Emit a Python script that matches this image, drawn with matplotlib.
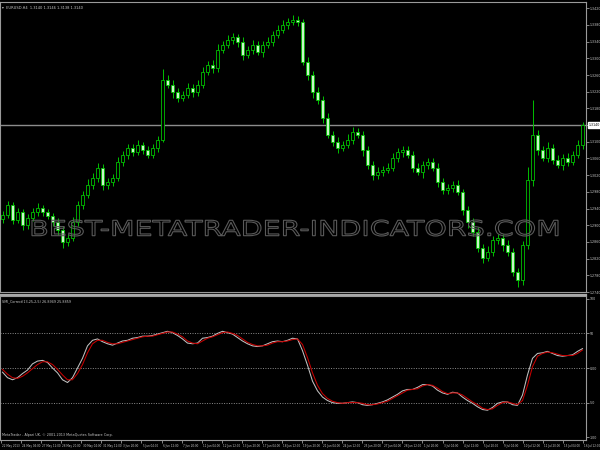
import numpy as np
import matplotlib
matplotlib.use('Agg')
import matplotlib.pyplot as plt
from matplotlib.textpath import TextPath
from matplotlib.patches import PathPatch
from matplotlib.font_manager import FontProperties
import matplotlib.transforms as mtransforms
from matplotlib.lines import Line2D

# EURUSD H4 close prices (one candle per 5 px of the screenshot)
close = [1.2925, 1.2949, 1.2913, 1.2932, 1.2901, 1.2918, 1.2932, 1.2942, 1.2932, 1.2922,
         1.2908, 1.2889, 1.2860, 1.2870, 1.2908, 1.2949, 1.2973, 1.2997, 1.3014, 1.3038,
         1.2997, 1.3004, 1.3014, 1.3052, 1.3069, 1.3086, 1.3076, 1.3093, 1.3081, 1.3069,
         1.3086, 1.3105, 1.3249, 1.3237, 1.3220, 1.3206, 1.3213, 1.3230, 1.3220, 1.3237,
         1.3268, 1.3285, 1.3278, 1.3321, 1.3333, 1.3345, 1.3350, 1.3340, 1.3309, 1.3321,
         1.3333, 1.3316, 1.3333, 1.3340, 1.3357, 1.3369, 1.3381, 1.3388, 1.3393, 1.3388,
         1.3292, 1.3261, 1.3220, 1.3201, 1.3158, 1.3117, 1.3100, 1.3086, 1.3093, 1.3105,
         1.3124, 1.3117, 1.3081, 1.3045, 1.3021, 1.3028, 1.3033, 1.3038, 1.3062, 1.3076,
         1.3081, 1.3069, 1.3038, 1.3028, 1.3045, 1.3052, 1.3038, 1.3004, 1.2985, 1.2990,
         1.2997, 1.2980, 1.2937, 1.2908, 1.2884, 1.2846, 1.2822, 1.2836, 1.2865, 1.2870,
         1.2853, 1.2836, 1.2788, 1.2769, 1.2853, 1.3009, 1.3117, 1.3081, 1.3062, 1.3086,
         1.3057, 1.3045, 1.3062, 1.3052, 1.3069, 1.3093, 1.3140]
first_open = 1.2915
# wick lengths in pips above / below the candle body
hi_wick = [8, 10, 6, 9, 7, 8, 10, 12, 6, 8,
           7, 9, 10, 8, 12, 10, 9, 14, 10, 12,
           8, 10, 9, 12, 10, 8, 9, 11, 7, 10,
           8, 9, 25, 12, 10, 8, 9, 11, 8, 10,
           12, 9, 10, 14, 9, 11, 10, 8, 12, 9,
           10, 8, 9, 11, 8, 10, 12, 9, 12, 8,
           6, 10, 9, 12, 8, 10, 9, 11, 8, 14,
           12, 9, 8, 10, 9, 11, 8, 10, 12, 9,
           8, 10, 9, 12, 10, 8, 9, 11, 10, 8,
           9, 12, 8, 10, 9, 11, 8, 14, 10, 9,
           8, 12, 10, 9, 10, 30, 84, 12, 10, 14,
           9, 11, 8, 10, 9, 12, 8]
lo_wick = [9, 8, 10, 7, 12, 9, 8, 10, 9, 7,
           10, 12, 15, 10, 8, 9, 10, 8, 9, 10,
           12, 10, 9, 8, 10, 11, 9, 8, 10, 9,
           8, 10, 6, 9, 14, 10, 9, 8, 12, 10,
           9, 8, 12, 10, 9, 8, 10, 12, 14, 9,
           10, 9, 12, 8, 10, 9, 8, 10, 9, 10,
           8, 12, 14, 10, 12, 9, 10, 12, 9, 8,
           10, 9, 14, 10, 12, 9, 10, 8, 9, 10,
           12, 9, 10, 8, 14, 10, 9, 12, 10, 9,
           10, 8, 12, 14, 9, 10, 12, 8, 10, 9,
           14, 10, 9, 17, 12, 10, 14, 12, 9, 10,
           11, 9, 12, 10, 8, 9, 10]

# SMI main (silver) and signal (red)
smi_main = [-6, -14, -17, -14, -8, -3, 6, 10, 11, 8,
            0, -7, -17, -21, -14, 0, 14, 32, 40, 42,
            38, 35, 33, 36, 39, 40, 43, 44, 46, 46,
            47, 49, 51, 53, 51, 47, 42, 36, 35, 36,
            43, 44, 46, 50, 53, 51, 49, 44, 39, 35,
            32, 31, 32, 35, 38, 39, 38, 40, 43, 42,
            25, 4, -19, -33, -42, -47, -50, -51, -51, -50,
            -49, -50, -53, -54, -53, -51, -49, -46, -42, -38,
            -33, -31, -31, -28, -24, -24, -26, -32, -36, -38,
            -35, -36, -42, -47, -51, -56, -60, -61, -57, -51,
            -49, -49, -53, -54, -39, -10, 14, 21, 22, 24,
            21, 18, 17, 18, 19, 24, 28]
smi_signal = [-2, -9, -14, -15, -12, -7, -1, 5, 9, 9,
              5, -2, -10, -17, -17, -8, 5, 22, 35, 40,
              40, 37, 35, 35, 37, 39, 41, 43, 45, 46,
              46, 48, 50, 52, 52, 49, 45, 39, 36, 35,
              39, 43, 45, 48, 51, 52, 50, 47, 42, 37,
              34, 32, 32, 33, 36, 38, 38, 39, 41, 42,
              34, 15, -7, -25, -37, -44, -48, -50, -51, -50,
              -50, -50, -51, -53, -53, -52, -50, -48, -44, -40,
              -36, -32, -31, -30, -26, -24, -25, -29, -34, -37,
              -36, -36, -39, -44, -49, -53, -58, -60, -59, -54,
              -50, -49, -51, -53, -47, -25, 2, 17, 21, 23,
              22, 20, 18, 18, 18, 21, 26]

time_labels = ['22 May 2013', '24 May 04:00', '27 May 12:00', '28 May 20:00', '30 May 04:00',
               '31 May 12:00', '3 Jun 20:00', '5 Jun 04:00', '6 Jun 12:00', '7 Jun 20:00',
               '11 Jun 04:00', '12 Jun 12:00', '13 Jun 20:00', '17 Jun 04:00', '18 Jun 12:00',
               '19 Jun 20:00', '21 Jun 04:00', '24 Jun 12:00', '25 Jun 20:00', '27 Jun 04:00',
               '28 Jun 12:00', '1 Jul 20:00', '3 Jul 04:00', '4 Jul 12:00', '5 Jul 20:00',
               '9 Jul 04:00', '10 Jul 12:00', '11 Jul 20:00', '15 Jul 04:00', '16 Jul 12:00']
current_price = 1.3140
smi_levels = [50, 0, -50]

GREEN = '#00c000'
GRAY = '#9a9a9a'
TXT = '#c8c8c8'

close = np.array(close)
opens = np.concatenate([[first_open], close[:-1]])
highs = np.maximum(opens, close) + np.array(hi_wick) / 10000
lows = np.minimum(opens, close) - np.array(lo_wick) / 10000
idx = np.arange(len(close))

fig = plt.figure(figsize=(6, 4.5), dpi=100, facecolor='black')

# ---- price window
ax = fig.add_axes([0, 158 / 450, 586 / 600, 290 / 450], facecolor='black')
ax.vlines(idx, lows, highs, color=GREEN, lw=0.7, zorder=2)
bull = close >= opens
ax.bar(idx[bull], (close - opens)[bull], bottom=opens[bull], width=0.5,
       color='black', edgecolor=GREEN, lw=0.6, zorder=3)
ax.bar(idx[~bull], (opens - close)[~bull], bottom=close[~bull], width=0.5,
       color='#c8f5c8', edgecolor=GREEN, lw=0.6, zorder=3)
ax.axhline(current_price, color='#8c8c8c', lw=1.0, zorder=1)
ax.set_xlim(-0.5, 116.7)
ax.set_ylim(1.2740, 1.3435)
ax.yaxis.tick_right()
ax.set_yticks(np.arange(1.2740, 1.34201, 0.0040))
ax.set_yticklabels([f'{v:.4f}' for v in np.arange(1.2740, 1.34201, 0.0040)])
ax.tick_params(axis='y', colors=GRAY, labelcolor=TXT, labelsize=2.3, length=2, width=0.6, pad=0.5)
ax.set_xticks([])
for s in ax.spines.values():
    s.set_color(GRAY)
    s.set_linewidth(0.8)
ax.text(1.004, current_price, '1.3140', transform=mtransforms.blended_transform_factory(ax.transAxes, ax.transData),
        fontsize=2.3, color='black', va='center', ha='left',
        bbox=dict(boxstyle='square,pad=0.2', fc='white', ec='white'))
ax.text(0.004, 0.985, '\u25be  EURUSD,H4  1.3140 1.3146 1.3138 1.3140', transform=ax.transAxes,
        fontsize=2.6, color=TXT, va='top', ha='left')

# ---- indicator window
ax2 = fig.add_axes([0, 10 / 450, 586 / 600, 144 / 450], facecolor='black')
for lv in smi_levels:
    ax2.axhline(lv, color='#8c8c8c', lw=0.7, ls=(0, (1, 1.5)))
ax2.plot(idx, smi_main, color='#c0c0c0', lw=0.75)
ax2.plot(idx, smi_signal, color='#c80000', lw=0.75)
ax2.set_xlim(-0.5, 116.7)
ax2.set_ylim(-104, 104)
ax2.yaxis.tick_right()
ax2.set_yticks([100, 50, 0, -50, -100])
ax2.set_yticklabels(['100', '50', '0.00', '-50', '-100'])
ax2.tick_params(axis='y', colors=GRAY, labelcolor=TXT, labelsize=2.3, length=2, width=0.6, pad=0.5)
for s in ax2.spines.values():
    s.set_color(GRAY)
    s.set_linewidth(0.8)
tpos = np.arange(len(time_labels)) * 4.014 - 0.3
ax2.set_xticks(tpos)
ax2.set_xticklabels([])
ax2.tick_params(axis='x', colors=GRAY, length=2, width=0.6)
for p, lab in zip(tpos, time_labels):
    ax2.text(p + 0.25, -0.025, lab, transform=mtransforms.blended_transform_factory(ax2.transData, ax2.transAxes),
             fontsize=1.95, color=TXT, va='top', ha='left')
ax2.text(0.004, 0.975, 'SMI_Correct(13,25,2,5) 26.8949 25.8859', transform=ax2.transAxes,
         fontsize=2.4, color=TXT, va='top', ha='left')
ax2.text(0.004, 0.02, 'MetaTrader - Alpari UK, \u00a9 2001-2013 MetaQuotes Software Corp.', transform=ax2.transAxes,
         fontsize=2.4, color=TXT, va='bottom', ha='left')

# separator between windows
fig.add_artist(Line2D([0, 586 / 600], [155.5 / 450, 155.5 / 450], color='#a8a8a8', lw=1.6,
                      transform=fig.transFigure))

# watermark
tp = TextPath((0, 0), 'BEST-METATRADER-INDICATORS.COM', size=1, prop=FontProperties(family='DejaVu Sans'))
bb = tp.get_extents()
x0, x1 = 32 / 600, 558 / 600
y0, y1 = (450 - 236) / 450, (450 - 220) / 450
tr = mtransforms.Affine2D().translate(-bb.x0, -bb.y0).scale((x1 - x0) / bb.width, (y1 - y0) / bb.height) \
    .translate(x0, y0) + fig.transFigure
fig.add_artist(PathPatch(tp, transform=tr, facecolor='none', edgecolor='#5a5a5a', lw=0.8, zorder=5))

fig.savefig('out.png', dpi=100, facecolor='black')
